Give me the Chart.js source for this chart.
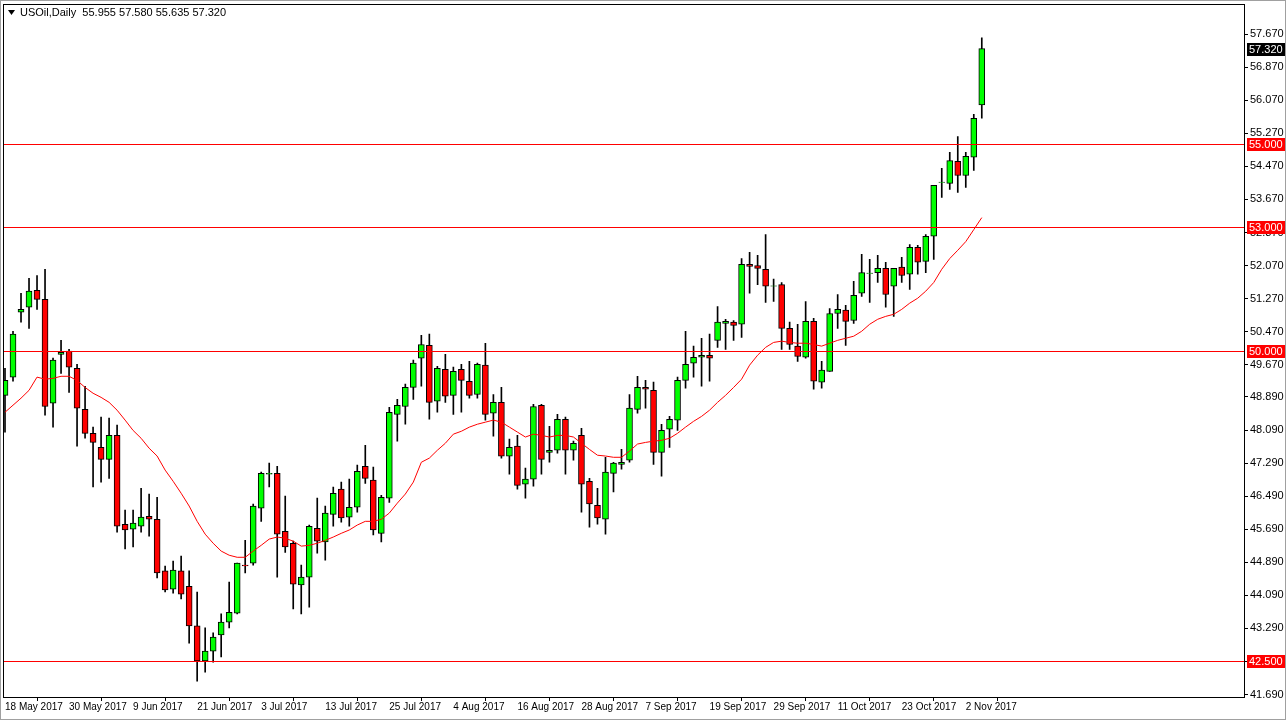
<!DOCTYPE html>
<html><head><meta charset="utf-8">
<script src="https://cdn.jsdelivr.net/npm/chart.js@4.4.1/dist/chart.umd.min.js"></script>
<style>html,body{margin:0;padding:0;background:#fff;overflow:hidden;}canvas{display:block;}</style>
</head><body><canvas id="c" width="1286" height="720"></canvas>
<script>
const title = "USOil,Daily  55.955 57.580 55.635 57.320";
const open  = [48.93,49.37,50.94,51.06,51.47,51.25,48.74,49.92,50.00,49.58,48.59,48.01,47.67,47.38,47.96,45.81,45.69,45.76,46.00,45.93,44.68,44.24,44.68,44.31,43.35,42.50,42.74,43.13,43.44,43.66,44.82,44.87,46.20,47.02,47.04,45.64,45.35,44.34,44.53,45.71,45.38,46.05,46.66,45.98,46.22,47.21,46.88,45.59,46.44,48.47,48.66,49.12,49.83,50.14,48.79,49.56,48.93,49.56,49.27,48.95,49.66,48.50,48.76,47.46,47.70,46.78,46.90,48.69,47.55,47.60,48.35,47.60,47.96,46.85,46.27,45.93,47.04,47.26,47.36,48.59,49.12,49.05,47.55,48.11,48.33,49.29,49.71,49.85,49.90,50.26,50.67,50.70,50.65,52.10,52.07,51.98,51.57,51.61,50.55,50.12,49.85,50.72,49.25,49.51,50.91,50.99,50.74,51.40,51.88,51.90,52.00,51.57,52.03,51.86,52.51,52.17,52.78,54.08,54.06,54.59,54.25,54.69,55.955];
const high  = [49.58,50.48,51.40,51.76,51.83,51.98,49.83,50.26,50.04,49.68,49.15,48.16,48.40,48.38,48.21,46.15,46.15,46.68,46.54,46.46,44.80,44.92,45.04,44.68,44.17,43.30,43.18,43.64,44.41,44.87,45.42,46.30,47.07,47.29,47.21,46.49,45.40,44.82,45.79,46.44,46.25,46.71,46.83,46.90,47.24,47.72,47.19,46.51,48.64,48.83,49.20,49.78,50.38,50.41,49.63,49.92,49.61,49.68,49.75,49.71,50.19,48.95,49.12,47.87,47.96,47.17,48.71,48.71,48.18,48.47,48.40,47.82,48.13,46.92,46.68,47.43,47.31,47.62,48.95,49.39,49.29,49.25,48.23,48.42,49.37,50.48,50.12,50.31,50.41,51.08,50.77,50.74,52.24,52.39,52.32,52.82,51.74,51.66,50.70,50.65,51.20,50.79,49.75,51.03,51.37,51.11,51.69,52.34,52.22,52.32,52.15,52.00,52.27,52.58,52.56,52.82,54.01,54.42,54.81,55.19,54.81,55.73,57.58];
const low   = [48.04,49.27,50.70,50.55,51.01,48.45,48.16,49.46,49.00,47.70,47.89,46.71,46.83,46.92,45.62,45.21,45.26,45.62,45.52,44.51,44.17,44.14,44.00,42.93,42.01,42.23,42.47,42.60,43.30,43.64,44.63,44.82,45.88,46.71,44.53,45.13,43.76,43.64,43.80,45.11,44.94,45.76,45.86,45.76,46.10,46.80,45.55,45.38,46.34,47.82,48.23,48.83,49.15,48.35,48.52,48.76,48.47,48.52,48.86,48.86,48.33,47.94,47.41,47.02,46.66,46.44,46.73,47.02,47.31,47.53,47.02,47.36,46.10,45.74,45.81,45.57,46.59,47.14,47.31,48.50,48.62,47.26,46.97,47.67,48.08,49.10,49.37,49.15,49.27,50.09,50.04,50.26,50.33,51.40,51.61,51.18,51.20,50.04,50.04,49.75,49.83,49.08,49.10,49.51,50.55,50.14,50.67,51.32,51.18,51.66,51.06,50.84,51.66,51.49,51.86,51.90,52.22,53.72,53.91,53.84,53.96,54.37,55.635];
const close = [49.29,50.41,51.01,51.45,51.25,48.66,49.78,49.97,49.61,48.62,48.01,47.79,47.38,47.96,45.76,45.67,45.84,45.98,45.93,44.63,44.22,44.70,44.12,43.35,42.50,42.74,43.08,43.44,43.68,44.87,44.80,46.25,47.04,47.04,45.57,45.26,44.36,44.53,45.76,45.40,46.08,46.56,45.96,46.22,47.09,46.92,45.67,46.46,48.52,48.69,49.12,49.71,50.16,48.76,49.58,48.91,49.51,49.29,48.93,49.68,48.47,48.76,47.46,47.67,46.75,46.90,48.66,47.38,47.60,48.35,47.60,47.77,46.78,46.30,45.96,47.07,47.29,47.31,48.62,49.12,49.08,47.55,48.08,48.35,49.29,49.68,49.85,49.90,49.83,50.70,50.72,50.62,52.10,52.05,52.00,51.57,51.57,50.55,50.16,49.87,50.72,49.27,49.54,50.91,51.01,50.72,51.35,51.90,51.88,52.00,51.37,52.00,51.83,52.51,52.15,52.78,54.01,54.08,54.61,54.25,54.71,55.63,57.32];
const maLine = [48.52,48.69,48.86,49.05,49.37,49.32,49.34,49.39,49.39,49.29,49.12,48.98,48.88,48.76,48.57,48.33,48.08,47.89,47.65,47.46,47.12,46.85,46.56,46.25,45.88,45.57,45.35,45.16,45.06,45.01,45.01,45.16,45.30,45.45,45.50,45.47,45.40,45.28,45.30,45.35,45.42,45.50,45.59,45.67,45.79,45.88,45.88,45.93,46.08,46.32,46.54,46.83,47.31,47.41,47.60,47.77,47.99,48.06,48.16,48.23,48.28,48.33,48.28,48.16,48.04,47.92,47.99,47.96,47.92,47.96,47.96,47.92,47.77,47.62,47.48,47.46,47.43,47.43,47.58,47.75,47.79,47.82,47.84,47.89,48.01,48.16,48.30,48.42,48.57,48.76,48.93,49.12,49.32,49.66,49.90,50.09,50.21,50.24,50.21,50.19,50.19,50.16,50.12,50.19,50.26,50.31,50.36,50.48,50.65,50.77,50.84,50.89,51.01,51.16,51.28,51.45,51.66,51.98,52.24,52.44,52.65,52.94,53.23];
const dateTicks = ["18 May 2017","30 May 2017","9 Jun 2017","21 Jun 2017","3 Jul 2017","13 Jul 2017","25 Jul 2017","4 Aug 2017","16 Aug 2017","28 Aug 2017","7 Sep 2017","19 Sep 2017","29 Sep 2017","11 Oct 2017","23 Oct 2017","2 Nov 2017"];
const priceTicks = [57.67,56.87,56.07,55.27,54.47,53.67,52.87,52.07,51.27,50.47,49.67,48.89,48.09,47.29,46.49,45.69,44.89,44.09,43.29,42.49,41.69];
const levels = [55.0,53.0,50.0,42.5];
const lastPrice = 57.32;

const FAM = "'Liberation Sans', Arial, sans-serif";
const FONT = "11px " + FAM;
const n = close.length;
const bodies = [], wicks = [], ma = [], bodyColors = [];
for (let i = 0; i < n; i++) {
  let o = open[i], c = close[i];
  if (Math.abs(o - c) < 0.01) c = o + 0.01;
  bodies.push({x: i, y: [o, c]});
  wicks.push({x: i, y: [low[i], high[i]]});
  ma.push({x: i, y: maLine[i]});
  bodyColors.push(close[i] >= open[i] ? '#00ff00' : '#ff0000');
}

const overlay = {
  id: 'overlay',
  afterDraw(chart) {
    const {ctx, chartArea: a, scales: {y}} = chart;
    ctx.save();
    ctx.lineWidth = 1;
    ctx.strokeStyle = '#ff0000';
    levels.forEach(v => {
      const py = Math.round(y.getPixelForValue(v)) + 0.5;
      ctx.beginPath(); ctx.moveTo(a.left + 1, py); ctx.lineTo(a.right, py); ctx.stroke();
    });
    ctx.strokeStyle = '#000';
    ctx.strokeRect(a.left + 0.5, 4.5, a.right - a.left, a.bottom - 4);
    ctx.strokeStyle = '#a0a0a0';
    ctx.strokeRect(0.5, 0.5, chart.width - 1, chart.height - 1);
    ctx.font = FONT; ctx.textBaseline = 'middle';
    const tag = (v, bg) => {
      const py = Math.round(y.getPixelForValue(v));
      ctx.fillStyle = bg; ctx.fillRect(a.right + 3, py - 6, 38, 13);
      ctx.fillStyle = '#fff'; ctx.textAlign = 'left';
      ctx.fillText(v.toFixed(3), a.right + 5, py + 1);
    };
    levels.forEach(v => tag(v, '#ff0000'));
    tag(lastPrice, '#000');
    ctx.fillStyle = '#000';
    ctx.beginPath(); ctx.moveTo(8, 10); ctx.lineTo(15, 10); ctx.lineTo(11.5, 15); ctx.closePath(); ctx.fill();
    ctx.textAlign = 'left';
    ctx.fillText(title, 20, 13);
    ctx.restore();
  }
};

new Chart(document.getElementById('c'), {
  type: 'bar',
  data: { datasets: [
    { type: 'line', data: ma, borderColor: '#ff0000', borderWidth: 1, pointRadius: 0, tension: 0, order: 0 },
    { data: bodies, backgroundColor: bodyColors, borderColor: '#000', borderWidth: 1, borderSkipped: false, barThickness: 6, grouped: false, order: 1 },
    { data: wicks, backgroundColor: '#000', borderWidth: 0, barThickness: 1, grouped: false, order: 2 }
  ]},
  options: {
    responsive: false, animation: false, devicePixelRatio: 1,
    layout: { padding: { left: 3, top: 0, right: 0, bottom: 0 } },
    plugins: { legend: { display: false }, tooltip: { enabled: false } },
    scales: {
      x: {
        type: 'linear', min: -0.25, max: 154.75, offset: false,
        afterBuildTicks(s) { s.ticks = dateTicks.map((t, k) => ({ value: k * 8 })); },
        afterFit(s) { s.height = 23; },
        grid: { drawOnChartArea: false, color: '#000', tickLength: 4 },
        border: { display: true, color: '#000' },
        ticks: { autoSkip: false, maxRotation: 0, align: 'start', padding: 0, color: '#000',
          font: { family: FAM, size: 10 },
          callback(v) { const k = Math.round(v / 8); return dateTicks[k] || ''; } }
      },
      y: {
        position: 'right', min: 41.629, max: 58.288,
        afterBuildTicks(s) { s.ticks = priceTicks.map(v => ({ value: v })); },
        afterFit(s) { s.width = 42; },
        grid: { drawOnChartArea: false, color: '#000', tickLength: 4 },
        border: { display: true, color: '#000' },
        ticks: { autoSkip: false, padding: 2, color: '#000',
          font: { family: FAM, size: 11 },
          callback(v) { return Number(v).toFixed(3); } }
      }
    }
  },
  plugins: [overlay]
});
</script></body></html>
